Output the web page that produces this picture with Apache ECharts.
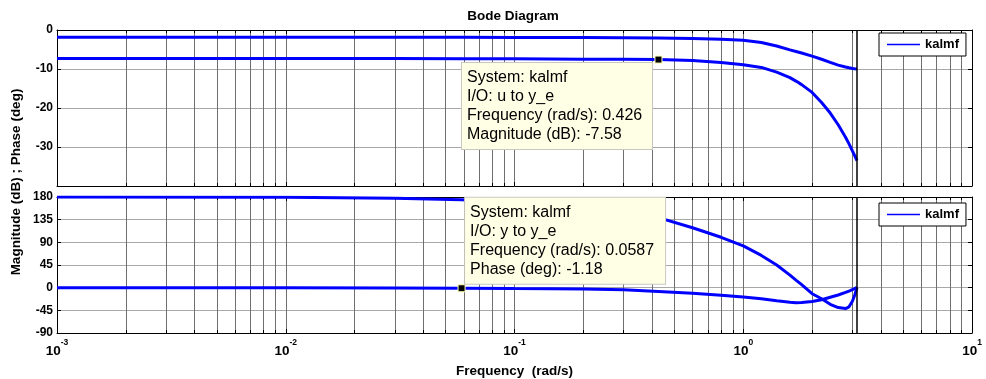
<!DOCTYPE html>
<html>
<head>
<meta charset="utf-8">
<title>Bode Diagram</title>
<script src="https://cdn.jsdelivr.net/npm/echarts@6/dist/echarts.min.js"></script>
<style>
  html, body { margin: 0; padding: 0; background: #fff; }
  #chart { width: 986px; height: 379px; }
</style>
</head>
<body>
<div id="chart"></div>
<script>
// Frequency samples (rad/s) shared by all four traces
const freq = [0.001, 0.01, 0.03, 0.0587, 0.1, 0.2, 0.3, 0.426, 0.6, 0.8, 1.0, 1.2, 1.4, 1.6, 1.7, 1.8, 2.0, 2.2, 2.4, 2.6, 2.8, 2.9, 3.0, 3.07, 3.1416];

// Magnitude (dB), upper and lower traces
const magUpper = [-1.85, -1.85, -1.86, -1.87, -1.9, -1.95, -2.0, -2.05, -2.2, -2.4, -2.65, -3.2, -4.1, -5.1, -5.5, -5.9, -6.7, -7.5, -8.3, -9.0, -9.5, -9.7, -9.85, -9.95, -10.0];
const magLower = [-7.28, -7.3, -7.33, -7.36, -7.4, -7.47, -7.52, -7.58, -7.85, -8.35, -8.9, -9.6, -10.8, -12.2, -13.1, -14.0, -16.0, -18.6, -21.3, -24.3, -27.5, -29.2, -31.0, -32.2, -33.5];

// Phase (deg), upper and lower traces
const phaseUpper = [180, 179.3, 177.5, 174.5, 169, 158, 149, 139, 119, 100, 83, 64, 45, 25, 15, 6, -12, -22, -33, -39.5, -41.5, -38, -27, -15, 0];
const phaseLower = [0, -0.2, -0.6, -1.18, -1.8, -2.5, -4, -7.5, -11, -15, -18.5, -22, -26, -29, -30, -29.5, -27.5, -24, -19, -14.5, -9.5, -7, -4, -2, 0.5];

// Axis ranges and ticks
const magTicks = [-40, -30, -20, -10, 0];
const phaseTicks = [-90, -45, 0, 45, 90, 135, 180];
const freqRange = [0.001, 10];
const nyquist = 3.1416;

// Data tips
const systemName = 'kalmf';
const tipMagIO = 'u to y_e';
const tipMagFreq = 0.426;
const tipMagValue = -7.58;
const tipPhaseIO = 'y to y_e';
const tipPhaseFreq = 0.0587;
const tipPhaseValue = -1.18;

const FONT = '"Liberation Sans", Arial, Helvetica, sans-serif';
const BLUE = '#0000ff';
const VGRID = '#6f6f6f';
const HGRID = '#a8a8a8';

const chart = echarts.init(document.getElementById('chart'), null, { renderer: 'canvas' });

function pairs(ys) { return freq.map((f, i) => [f, ys[i]]); }

function xAxisDef(gridIndex, position, withLabels, withGrid) {
  return {
    type: 'log', logBase: 10, gridIndex: gridIndex, position: position,
    min: freqRange[0], max: freqRange[1], splitNumber: 4,
    axisLine: { show: true, onZero: false, lineStyle: { color: '#000', width: 1 } },
    axisTick: { show: true, inside: true, length: 4, lineStyle: { color: '#000' } },
    minorTick: { show: true, splitNumber: 9, length: 3, lineStyle: { color: '#000' } },
    splitLine: { show: withGrid, lineStyle: { color: VGRID, width: 1 } },
    minorSplitLine: { show: withGrid, lineStyle: { color: VGRID, width: 1 } },
    name: withLabels ? 'Frequency  (rad/s)' : '',
    nameLocation: 'middle', nameGap: 31,
    nameTextStyle: { fontSize: 13.5, fontWeight: 'bold', color: '#000', fontFamily: FONT },
    axisLabel: withLabels ? {
      show: true, margin: 5,
      formatter: function (v) {
        const e = Math.round(Math.log10(v));
        return '{b|10}{s|' + e + '}';
      },
      rich: {
        b: { fontSize: 13.5, fontWeight: 'bold', color: '#000', fontFamily: FONT, lineHeight: 20, verticalAlign: 'bottom' },
        s: { fontSize: 8.5, fontWeight: 'bold', color: '#000', fontFamily: FONT, lineHeight: 8, verticalAlign: 'top' }
      }
    } : { show: false }
  };
}

function yAxisDef(gridIndex, position, ticks, withLabels) {
  return {
    type: 'value', gridIndex: gridIndex, position: position,
    min: ticks[0], max: ticks[ticks.length - 1], interval: ticks[1] - ticks[0],
    axisLine: { show: true, onZero: false, lineStyle: { color: '#000', width: 1 } },
    axisTick: { show: true, inside: true, length: 4, lineStyle: { color: '#000' } },
    splitLine: { show: withLabels, lineStyle: { color: HGRID, width: 1 } },
    axisLabel: withLabels ? {
      show: true, margin: 4, fontSize: 12, fontWeight: 'bold', color: '#000', fontFamily: FONT,
      formatter: function (v) { return v === -40 ? '' : String(v); }
    } : { show: false }
  };
}

function tipLabel(lines, pos, vAlign, contentWidth) {
  return {
    show: true,
    formatter: function () { return lines.join('\n'); },
    position: pos, align: 'left', verticalAlign: vAlign,
    width: contentWidth,
    backgroundColor: '#ffffe6', borderColor: '#c8c8c0', borderWidth: 1,
    padding: [5, 6, 5, 5],
    color: '#000', fontSize: 16, lineHeight: 19, fontFamily: FONT
  };
}

const nyquistLine = {
  silent: true, symbol: ['none', 'none'],
  label: { show: false },
  lineStyle: { color: '#000', width: 1.5, type: 'solid' },
  data: [{ xAxis: nyquist }]
};

const lineBase = {
  type: 'line', name: systemName, symbol: 'none', smooth: false,
  lineStyle: { color: BLUE, width: 3 }, itemStyle: { color: BLUE },
  emphasis: { disabled: true }
};

function legendDef(top) {
  return {
    data: [systemName], left: 879, top: top, selectedMode: false,
    orient: 'horizontal', icon: 'rect', itemWidth: 33, itemHeight: 1.5,
    padding: [4, 7, 4, 8], borderColor: '#000', borderWidth: 1, backgroundColor: '#fff',
    itemStyle: { color: BLUE },
    textStyle: { fontSize: 13, fontWeight: 'bold', color: '#000', fontFamily: FONT, lineHeight: 15 }
  };
}

const option = {
  animation: false,
  textStyle: { fontFamily: FONT },
  grid: [
    { left: 57, top: 30, width: 915, height: 156 },
    { left: 57, top: 197, width: 915, height: 137 }
  ],
  graphic: [
    {
      type: 'text', x: 513, y: 16,
      style: { text: 'Bode Diagram', font: 'bold 13.5px ' + FONT, fill: '#000', textAlign: 'center', textVerticalAlign: 'middle' }
    },
    {
      type: 'text', x: 16, y: 182, rotation: Math.PI / 2,
      style: { text: 'Magnitude (dB) ; Phase (deg)', font: 'bold 13.5px ' + FONT, fill: '#000', textAlign: 'center', textVerticalAlign: 'middle' }
    }
  ],
  legend: [legendDef(33), legendDef(203)],
  xAxis: [
    xAxisDef(0, 'bottom', false, true),
    xAxisDef(0, 'top', false, false),
    xAxisDef(1, 'bottom', true, true),
    xAxisDef(1, 'top', false, false)
  ],
  yAxis: [
    yAxisDef(0, 'left', magTicks, true),
    yAxisDef(0, 'right', magTicks, false),
    yAxisDef(1, 'left', phaseTicks, true),
    yAxisDef(1, 'right', phaseTicks, false)
  ],
  series: [
    Object.assign({}, lineBase, {
      xAxisIndex: 0, yAxisIndex: 0, data: pairs(magUpper),
      markLine: nyquistLine
    }),
    Object.assign({}, lineBase, {
      xAxisIndex: 0, yAxisIndex: 0, data: pairs(magLower),
      markPoint: {
        silent: true, symbol: 'rect', symbolSize: 7,
        itemStyle: { color: '#000', borderColor: '#ffffb0', borderWidth: 1 },
        label: tipLabel([
          'System: ' + systemName,
          'I/O: ' + tipMagIO,
          'Frequency (rad/s): ' + tipMagFreq,
          'Magnitude (dB): ' + tipMagValue
        ], [-192.5, 7.5], 'top', 179),
        data: [{ coord: [tipMagFreq, tipMagValue] }]
      }
    }),
    Object.assign({}, lineBase, {
      xAxisIndex: 2, yAxisIndex: 2, data: pairs(phaseUpper),
      markLine: nyquistLine
    }),
    Object.assign({}, lineBase, {
      xAxisIndex: 2, yAxisIndex: 2, data: pairs(phaseLower),
      markPoint: {
        silent: true, symbol: 'rect', symbolSize: 7,
        itemStyle: { color: '#000', borderColor: '#ffffb0', borderWidth: 1 },
        label: tipLabel([
          'System: ' + systemName,
          'I/O: ' + tipPhaseIO,
          'Frequency (rad/s): ' + tipPhaseFreq,
          'Phase (deg): ' + tipPhaseValue
        ], [7.5, -0.5], 'bottom', 189),
        data: [{ coord: [tipPhaseFreq, tipPhaseValue] }]
      }
    })
  ]
};

chart.setOption(option);
</script>
</body>
</html>
